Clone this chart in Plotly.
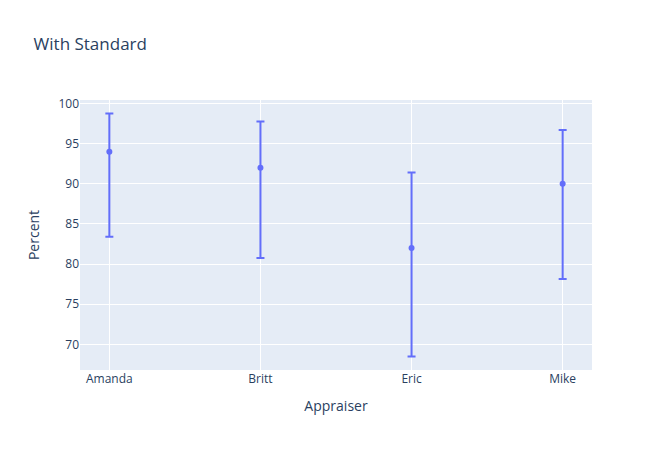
import plotly.graph_objects as go

appraisers = ["Amanda", "Britt", "Eric", "Mike"]
percent = [94.0, 92.0, 82.0, 90.0]
upper = [98.75, 97.75, 91.4, 96.7]
lower = [83.4, 80.75, 68.5, 78.15]

err_plus = [u - p for u, p in zip(upper, percent)]
err_minus = [p - l for p, l in zip(percent, lower)]

fig = go.Figure(
    go.Scatter(
        x=appraisers,
        y=percent,
        mode="markers",
        marker=dict(color="#636efa"),
        error_y=dict(type="data", symmetric=False, array=err_plus, arrayminus=err_minus),
    )
)
fig.update_layout(
    title="With Standard",
    xaxis_title="Appraiser",
    yaxis_title="Percent",
    width=672,
    height=450,
)
# page has a default 8px body margin, drop it so the figure sits at the corner
fig.write_html(
    "out.html",
    config={"displayModeBar": False},
    post_script="document.body.style.margin='0';",
)
